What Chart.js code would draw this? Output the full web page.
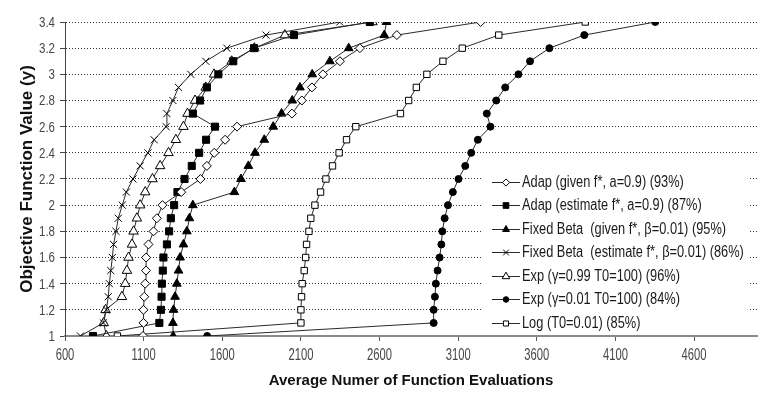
<!DOCTYPE html>
<html>
<head>
<meta charset="utf-8">
<script src="https://cdn.jsdelivr.net/npm/chart.js@4.4.1/dist/chart.umd.min.js"></script>
<style>
  html, body { margin: 0; padding: 0; background: #fff; }
  #wrap { width: 777px; height: 399px; }
</style>
</head>
<body>
<div id="wrap"><canvas id="chart"></canvas></div>
<script>
// objective value levels (y) shared by every run
const yLevels = [1.0, 1.1, 1.2, 1.3, 1.4, 1.5, 1.6, 1.7, 1.8, 1.9, 2.0, 2.1, 2.2,
                 2.3, 2.4, 2.5, 2.6, 2.7, 2.8, 2.9, 3.0, 3.1, 3.2, 3.3, 3.4];

// average number of function evaluations at each level
const adapGiven = [1096, 1099, 1099, 1104, 1110, 1115, 1116, 1131, 1163, 1184, 1220, 1339, 1461,
                   1502, 1549, 1618, 1694, 2043, 2106, 2170, 2240, 2348, 2475, 2710, 3243];
const adapEstimate = [778, 1200, 1210, 1214, 1216, 1222, 1226, 1248, 1262, 1273, 1294, 1315, 1360,
                      1406, 1453, 1497, 1554, 1413, 1459, 1502, 1575, 1670, 1802, 2056, 2538];
const fixedGiven = [1288, 1286, 1290, 1300, 1311, 1322, 1332, 1353, 1375, 1391, 1413, 1677, 1719,
                    1766, 1808, 1867, 1924, 1977, 2045, 2094, 2172, 2284, 2404, 2630, 2644];
const fixedEstimate = [698, 844, 863, 875, 882, 891, 901, 909, 924, 939, 964, 990, 1032,
                       1078, 1127, 1167, 1243, 1248, 1286, 1322, 1400, 1495, 1629, 1878, 2347];
const exp099 = [863, 846, 858, 962, 983, 994, 1004, 1026, 1036, 1057, 1078, 1110, 1156,
                1205, 1258, 1305, 1353, 1379, 1427, 1495, 1548, 1660, 1804, 1998, 2555];
const exp001 = [1504, 2944, 2944, 2952, 2958, 2969, 2982, 2993, 2999, 3014, 3035, 3066, 3102,
                3145, 3183, 3225, 3305, 3282, 3342, 3399, 3483, 3557, 3680, 3902, 4353];
const logT0 = [933, 2100, 2100, 2104, 2108, 2121, 2130, 2136, 2151, 2163, 2189, 2225, 2259,
               2301, 2343, 2390, 2449, 2733, 2785, 2834, 2901, 3003, 3126, 3358, 3908];

const seriesLabels = [
  'Adap (given f*, a=0.9) (93%)',
  'Adap (estimate f*, a=0.9) (87%)',
  'Fixed Beta  (given f*, \u03b2=0.01) (95%)',
  'Fixed Beta  (estimate f*, \u03b2=0.01) (86%)',
  'Exp (\u03b3=0.99 T0=100) (96%)',
  'Exp (\u03b3=0.01 T0=100) (84%)',
  'Log (T0=0.01) (85%)'
];

const xTicks = [600, 1100, 1600, 2100, 2600, 3100, 3600, 4100, 4600];
const xTickLabels = ['600', '1100', '1600', '2100', '2600', '3100', '3600', '4100', '4600'];
const yTicks = [1, 1.2, 1.4, 1.6, 1.8, 2, 2.2, 2.4, 2.6, 2.8, 3, 3.2, 3.4];
const yTickLabels = ['1', '1.2', '1.4', '1.6', '1.8', '2', '2.2', '2.4', '2.6', '2.8', '3', '3.2', '3.4'];

const toPoints = xs => xs.map((x, i) => ({ x: x, y: yLevels[i] }));

function series(label, xs, style, radius, fill) {
  return {
    label: label,
    data: toPoints(xs),
    showLine: true,
    borderColor: '#2a2a2a',
    borderWidth: 1,
    pointStyle: style,
    pointRadius: radius,
    pointHoverRadius: radius,
    pointBackgroundColor: fill,
    pointBorderColor: '#000',
    pointBorderWidth: 1,
    tension: 0
  };
}

const datasets = [
  series(seriesLabels[0], adapGiven, 'rectRot', 4.5, '#fff'),
  series(seriesLabels[1], adapEstimate, 'rect', 5, '#000'),
  series(seriesLabels[2], fixedGiven, 'triangle', 5, '#000'),
  series(seriesLabels[3], fixedEstimate, 'crossRot', 5, '#000'),
  series(seriesLabels[4], exp099, 'triangle', 5.5, '#fff'),
  series(seriesLabels[5], exp001, 'circle', 3.5, '#000'),
  series(seriesLabels[6], logT0, 'rect', 4.5, '#fff')
];

// the original text is narrow, so squeeze it sideways
function narrowText(ctx, text, px, py, sx, align) {
  ctx.save();
  ctx.translate(px, py);
  ctx.scale(sx, 1);
  ctx.textAlign = align;
  ctx.fillText(text, 0, 0);
  ctx.restore();
}

// legend sitting inside the plot, lower right
const innerLegend = {
  id: 'innerLegend',
  afterDatasetsDraw(chart) {
    const ctx = chart.ctx;
    ctx.save();
    ctx.fillStyle = '#fff';
    ctx.fillRect(482, 168, 266, 166);
    chart.data.datasets.forEach((ds, i) => {
      const cy = Math.round(181.5 + i * 23.5);
      ctx.strokeStyle = ds.borderColor;
      ctx.lineWidth = 1;
      ctx.beginPath();
      ctx.moveTo(492, cy + 0.5);
      ctx.lineTo(520, cy + 0.5);
      ctx.stroke();
      ctx.fillStyle = ds.pointBackgroundColor;
      ctx.strokeStyle = ds.pointBorderColor;
      Chart.helpers.drawPoint(ctx, {
        pointStyle: ds.pointStyle, radius: ds.pointRadius * 0.8, borderWidth: 1, rotation: 0
      }, 506, cy + 0.5);
      ctx.fillStyle = '#1a1a1a';
      ctx.font = "16px 'Liberation Sans', Arial, sans-serif";
      ctx.textBaseline = 'middle';
      narrowText(ctx, ds.label, 522, cy + 1, 0.8, 'left');
    });
    ctx.restore();
  }
};

// tick labels, placed through the scales
const tickText = {
  id: 'tickText',
  afterDraw(chart) {
    const { ctx, scales } = chart;
    ctx.save();
    ctx.fillStyle = '#474747';
    ctx.textBaseline = 'middle';
    ctx.font = "17px 'Liberation Sans', Arial, sans-serif";
    xTicks.forEach((v, i) => {
      narrowText(ctx, xTickLabels[i], scales.x.getPixelForValue(v), scales.x.top + 19.5, 0.66, 'center');
    });
    ctx.font = "14px 'Liberation Sans', Arial, sans-serif";
    yTicks.forEach((v, i) => {
      narrowText(ctx, yTickLabels[i], scales.y.right - 10, scales.y.getPixelForValue(v) + 1, 0.82, 'right');
    });
    ctx.restore();
  }
};

const whiteBg = {
  id: 'whiteBg',
  beforeDraw(chart) {
    const ctx = chart.ctx;
    ctx.save();
    ctx.fillStyle = '#fff';
    ctx.fillRect(0, 0, chart.width, chart.height);
    ctx.restore();
  }
};

Chart.defaults.font.family = "'Liberation Sans', Arial, sans-serif";
Chart.defaults.color = '#444';

new Chart(document.getElementById('chart'), {
  type: 'scatter',
  data: { datasets: datasets },
  plugins: [whiteBg, innerLegend, tickText],
  options: {
    responsive: true,
    maintainAspectRatio: false,
    animation: false,
    layout: { padding: { left: 0, right: 20, top: 22, bottom: 0 } },
    plugins: {
      legend: { display: false },
      tooltip: { enabled: false }
    },
    scales: {
      x: {
        type: 'linear',
        min: 600,
        max: 5000,
        afterBuildTicks: scale => { scale.ticks = xTicks.map(v => ({ value: v })); },
        afterFit: scale => { scale.height = 63; },
        ticks: { display: false },
        grid: { drawOnChartArea: false, drawTicks: true, tickLength: 5, tickColor: '#555' },
        border: { color: '#8a8a8a', width: 2 },
        title: {
          display: true,
          text: 'Average Numer of Function Evaluations',
          color: '#111',
          font: { size: 15, weight: 'bold' },
          padding: { top: 0, bottom: 9 }
        }
      },
      y: {
        min: 1,
        max: 3.4,
        afterBuildTicks: scale => { scale.ticks = yTicks.map(v => ({ value: v })); },
        afterFit: scale => { scale.width = 65; },
        ticks: { display: false },
        grid: { color: '#333', lineWidth: 1, tickLength: 5, tickColor: '#444' },
        border: { color: '#444', width: 1, dash: [1, 2] },
        title: {
          display: true,
          text: 'Objective Function Value (y)',
          color: '#111',
          font: { size: 17, weight: 'bold' },
          padding: { top: 17, bottom: 0 }
        }
      }
    }
  }
});
</script>
</body>
</html>
